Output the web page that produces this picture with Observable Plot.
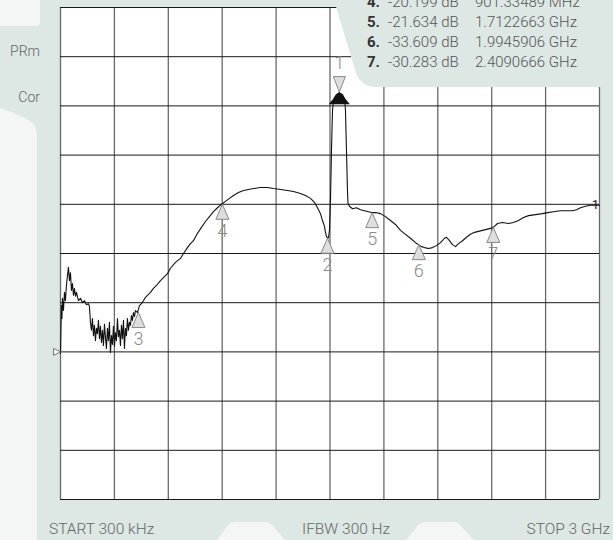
<!DOCTYPE html>
<html><head><meta charset="utf-8">
<script src="https://cdn.jsdelivr.net/npm/d3@7"></script>
<script src="https://cdn.jsdelivr.net/npm/@observablehq/plot@0.6"></script>
<style>
html,body{margin:0;padding:0;background:#f3f6f5;}
#wrap{position:relative;width:613px;height:540px;overflow:hidden;font-family:Roboto,"Noto Sans",sans-serif;}
#under,#over,#chart{position:absolute;left:0;top:0;}
#over{pointer-events:none;}
</style></head><body>
<div id="wrap"><svg id="under" width="613" height="540"></svg><div id="chart"></div><svg id="over" width="613" height="540"></svg></div>
<script>
// ---- trace (frequency in MHz, level in dB) ----
const traceFreqMHz = [0.3,2.8,5.6,8.3,11.1,16.7,22.3,27.8,33.4,39.0,44.5,50.1,55.7,61.2,66.8,72.4,77.9,83.5,89.1,100.2,
111.3,122.5,133.6,144.7,155.8,161.4,167.0,172.5,178.1,183.7,189.2,194.8,200.4,205.9,211.5,217.1,222.6,228.2,233.8,239.3,
244.9,250.5,256.0,261.6,267.2,272.7,278.3,283.9,289.4,295.0,300.6,306.1,311.7,317.3,322.8,328.4,334.0,339.5,345.1,350.7,
356.2,361.8,367.4,372.9,378.5,384.1,389.6,395.2,400.8,406.3,411.9,417.5,428.6,439.7,450.8,462.0,473.1,484.2,500.9,517.6,
534.3,556.6,578.9,595.6,612.3,640.1,667.9,684.6,706.9,723.6,740.3,762.5,784.8,807.1,829.3,851.6,873.9,896.1,918.4,940.7,
962.9,990.7,1018.6,1046.4,1074.2,1113.2,1152.2,1185.6,1224.5,1263.5,1296.9,1335.7,1363.7,1391.5,1413.8,1430.5,1447.2,1458.3,1469.4,1475.0,
1480.6,1486.1,1491.7,1497.3,1502.8,1508.4,1514.0,1519.5,1525.1,1536.2,1547.3,1558.5,1569.6,1580.7,1586.3,1591.9,1597.4,1600.2,1608.6,1625.3,
1647.5,1669.8,1692.1,1714.3,1736.6,1758.9,1781.1,1809.0,1836.8,1864.6,1892.4,1920.3,1948.1,1975.9,1992.6,2009.3,2026.0,2048.3,2070.6,2092.8,
2115.1,2137.3,2148.5,2165.2,2181.9,2198.6,2215.3,2237.5,2259.8,2282.1,2304.3,2326.6,2348.9,2371.1,2393.4,2415.6,2432.3,2460.2,2493.6,2521.4,
2549.2,2577.1,2604.9,2643.9,2682.8,2710.6,2744.0,2783.0,2816.4,2849.8,2872.1,2894.3,2922.2,2950.0,2977.8,3000];
const traceLevelDb = [-70.3,-65.6,-60.6,-63.2,-59.1,-61.6,-57.9,-59.6,-56.5,-54.5,-52.8,-55.5,-53.9,-57.5,-56.1,-58.5,-57.1,-58.7,-57.9,-59.6,
-59.1,-60.0,-59.6,-60.4,-60.2,-60.8,-64.0,-65.6,-63.2,-66.7,-64.6,-67.7,-65.2,-66.3,-63.6,-67.3,-64.8,-68.1,-65.6,-68.7,
-64.4,-67.1,-69.3,-65.2,-67.7,-64.0,-70.1,-66.7,-68.5,-64.8,-68.9,-66.1,-67.7,-63.2,-66.9,-65.6,-68.7,-64.6,-67.3,-63.6,
-69.3,-65.2,-66.7,-63.2,-65.6,-64.0,-64.6,-62.6,-63.6,-62.0,-62.8,-61.6,-62.0,-60.6,-60.2,-59.6,-58.9,-58.5,-57.9,-57.1,
-56.5,-55.5,-54.7,-54.1,-53.0,-51.8,-51.0,-50.0,-48.8,-48.0,-47.4,-45.9,-44.7,-43.5,-42.5,-41.5,-40.7,-40.0,-39.4,-38.8,
-38.2,-37.6,-37.2,-37.0,-36.8,-36.6,-36.6,-36.8,-37.0,-37.2,-37.4,-37.8,-38.2,-38.8,-39.6,-40.7,-41.9,-43.3,-44.5,-45.7,
-46.5,-46.9,-46.8,-45.3,-39.2,-29.1,-20.9,-18.9,-18.3,-17.7,-17.5,-17.5,-17.7,-18.5,-20.9,-29.1,-37.2,-39.8,-40.4,-40.9,
-40.7,-41.1,-41.3,-41.5,-41.7,-41.7,-41.9,-42.5,-43.3,-44.1,-45.3,-46.1,-46.9,-47.8,-48.2,-48.6,-48.8,-49.0,-48.8,-48.4,
-47.8,-46.9,-46.7,-47.4,-48.2,-48.6,-48.0,-47.4,-46.7,-46.1,-45.7,-45.5,-45.3,-45.1,-44.9,-44.5,-43.9,-43.7,-43.9,-43.7,
-43.3,-42.7,-42.3,-42.1,-41.9,-41.7,-41.5,-41.3,-41.3,-41.3,-41.1,-40.7,-40.4,-40.2,-40.2,-40.2];

// ---- markers placed on the trace ----
const markerIds = ["2","3","4","5","6","7"];
const markerFreqMHz = [1486, 434, 901.3, 1735, 1994.6, 2409.1];
const markerLevelDb = [-46.9, -62.0, -40.0, -41.7, -48.2, -44.7];
const activeId = "1";
const activeFreqMHz = 1552;
const activeLevelDb = -17.5;
const refLevelDb = -70;

// ---- marker readout (text) ----
const listIds = ["4.","5.","6.","7."];
const listLevels = ["-20.199 dB","-21.634 dB","-33.609 dB","-30.283 dB"];
const listFreqs = ["901.33489 MHz","1.7122663 GHz","1.9945906 GHz","2.4090666 GHz"];

// ---- annotation text ----
const sideLabels = ["PRm","Cor"];
const footLabels = ["START 300 kHz","IFBW 300 Hz","STOP 3 GHz"];

const xDomain = [0.3, 3000];
const yDomain = [-100, 0];
const xGrid = d3.range(11).map(i => xDomain[0] + i * (xDomain[1] - xDomain[0]) / 10);
const yGrid = d3.range(-100, 1, 10);

const trace = traceFreqMHz.map((f, i) => ({f, db: traceLevelDb[i]}));
const markers = markerIds.map((id, i) => ({id, f: markerFreqMHz[i], db: markerLevelDb[i]}));
const active = [{id: activeId, f: activeFreqMHz, db: activeLevelDb}];

const upTri = {draw(c){c.moveTo(0,0);c.lineTo(6.5,15);c.lineTo(-6.5,15);c.closePath();}};
const downTri = {draw(c){c.moveTo(0,-1.5);c.lineTo(6,-17);c.lineTo(-6,-17);c.closePath();}};
const activeTri = {draw(c){c.moveTo(0,-1);c.lineTo(9,10);c.lineTo(-9,10);c.closePath();}};
const refArrow = {draw(c){c.moveTo(0,0);c.lineTo(-7,-3.5);c.lineTo(-7,3.5);c.closePath();}};

const PANEL = "#dde7e4", LIGHT = "#f3f6f5";

// underlay
const under = d3.select("#under");
under.append("rect").attr("width",613).attr("height",540).attr("fill",PANEL);
under.append("path").attr("d","M0,0 H40 V22 Q40,26 36,26 H0 Z").attr("fill",LIGHT);
under.append("path").attr("d","M0,108 C12,112 24,117 30,121 Q37,125 37,136 V540 H0 Z").attr("fill",LIGHT);
under.append("path").attr("d","M217,540 L228,525 Q231,522 235,522 H265 Q269,522 272,525 L285,540 Z").attr("fill",LIGHT);
under.append("path").attr("d","M406,540 L418,525 Q421,522 425,522 H453 Q457,522 460,525 L474,540 Z").attr("fill",LIGHT);

const chart = Plot.plot({
  width: 613, height: 540,
  marginLeft: 60, marginRight: 14, marginTop: 7, marginBottom: 41,
  x: {domain: xDomain, axis: null},
  y: {domain: yDomain, axis: null},
  style: {background: "transparent", fontFamily: "Roboto, 'Noto Sans', sans-serif"},
  marks: [
    Plot.frame({fill: "white", stroke: "none"}),
    Plot.ruleX(xGrid, {stroke: "#6a6a6a", strokeWidth: 1.3}),
    Plot.ruleY(yGrid, {stroke: "#1a1a1a", strokeWidth: 1}),
    Plot.line(trace, {x: "f", y: "db", stroke: "#111", strokeWidth: 1.1}),
    Plot.dot(markers, {x: "f", y: "db", symbol: upTri, fill: "#dedede", stroke: "#8a8a8a", strokeWidth: 1}),
    Plot.text(markers, {x: "f", y: "db", text: "id", dy: 27, fill: "#8a8a8a", fontSize: 18, fontWeight: 300}),
    Plot.dot(active, {x: "f", y: "db", symbol: activeTri, fill: "#111", stroke: "#111", strokeWidth: 1.5}),
    Plot.dot(active, {x: "f", y: "db", symbol: downTri, fill: "#dedede", stroke: "#8a8a8a", strokeWidth: 1}),
    Plot.text(active, {x: "f", y: "db", text: "id", dy: -30, fill: "#8a8a8a", fontSize: 18, fontWeight: 300}),
    Plot.dot([{f: xDomain[0], db: refLevelDb}], {x: "f", y: "db", symbol: refArrow, fill: "#f6f6f6", stroke: "#777", strokeWidth: 1}),
    Plot.text([{f: xDomain[1], db: traceLevelDb[traceLevelDb.length-1], t: "1"}], {x: "f", y: "db", text: "t", dx: -4, fill: "#222", fontSize: 13})
  ]
});
document.getElementById("chart").appendChild(chart);

// overlay
const over = d3.select("#over");
over.append("path").attr("d","M334,0 L355,70 Q360,87 376,87 H613 V0 Z").attr("fill",PANEL);
const rowsY = [2, 22, 42, 62];
listIds.forEach((id, i) => {
  const t = over.append("text").attr("y", rowsY[i]).attr("dominant-baseline","central")
    .attr("font-family","Roboto, 'Noto Sans', sans-serif").attr("font-size",15);
  t.append("tspan").attr("x",367).attr("font-weight",700).attr("fill","#333").text(id);
  t.append("tspan").attr("x",388).attr("font-weight",300).attr("fill","#555").text(listLevels[i]);
  t.append("tspan").attr("x",475).attr("font-weight",300).attr("fill","#555").text(listFreqs[i]);
});
const sideY = [51, 97];
sideLabels.forEach((s, i) => {
  over.append("text").attr("x",40).attr("y",sideY[i]).attr("text-anchor","end").attr("dominant-baseline","central")
    .attr("font-family","Roboto, 'Noto Sans', sans-serif").attr("font-size",14).attr("font-weight",300).attr("fill","#666").text(s);
});
const footX = [49, 302, 610], footA = ["start","start","end"];
footLabels.forEach((s, i) => {
  over.append("text").attr("x",footX[i]).attr("y",529).attr("text-anchor",footA[i]).attr("dominant-baseline","central")
    .attr("font-family","Roboto, 'Noto Sans', sans-serif").attr("font-size",15.5).attr("font-weight",300).attr("fill","#666").text(s);
});
</script>
</body></html>
